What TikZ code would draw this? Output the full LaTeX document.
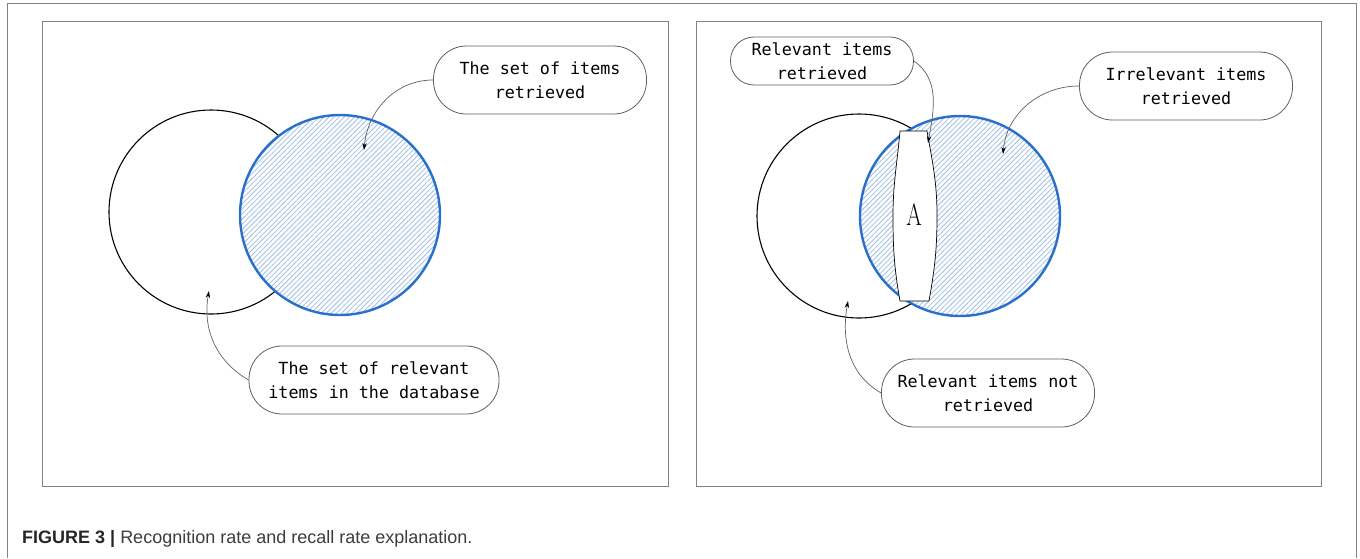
\documentclass[tikz,border=0pt]{standalone}
\usepackage{fontspec}
\newfontfamily\monofont{DejaVu Sans Mono}
\newfontfamily\capfont{Liberation Sans}
\usetikzlibrary{patterns.meta,arrows.meta}

\definecolor{setblue}{RGB}{40,112,204}
\definecolor{hatchblue}{RGB}{160,192,230}
\definecolor{framegray}{RGB}{130,130,130}
\definecolor{boxgray}{RGB}{95,95,95}
\definecolor{capgray}{RGB}{60,60,60}

\tikzset{
  callout/.style={draw=boxgray, fill=white, line width=0.8pt, rounded corners=33pt,
    minimum width=213pt, minimum height=68pt, inner sep=0pt, align=center,
    font=\monofont\fontsize{16.7}{24}\selectfont},
  smallcallout/.style={callout, rounded corners=23.5pt, minimum width=183pt, minimum height=48pt},
  pointer/.style={draw=boxgray, line width=0.7pt, -{Stealth[length=7pt,width=4.5pt,color=black]}},
  relset/.style={draw=black, line width=1.1pt},
  retset/.style={draw=setblue, line width=2.4pt, preaction={fill=white},
    pattern={Lines[angle=45, distance=3.6pt, line width=0.8pt]}, pattern color=hatchblue},
  panel/.style={draw=framegray, line width=1pt},
}

\begin{document}
\begin{tikzpicture}[x=1pt, y=1pt]
  \useasboundingbox (0,0) rectangle (1360,-558);

  % Outer frame, open at the bottom
  \draw[panel] (7,-558) -- (7,-3) -- (1356,-3) -- (1356,-558);

  % Left panel
  \draw[panel] (42,-21) rectangle (668,-486);
  \draw[relset] (211,-212) circle (102);
  \draw[retset] (340,-215) circle (100);

  \node[callout] (setR) at (540,-80) {The set of items\\retrieved};
  \node[callout, minimum width=250pt] (setD) at (374,-380) {The set of relevant\\items in the database};

  \coordinate (tipR) at (364,-150);
  \coordinate (tipD) at (209,-291);
  \draw[pointer] (setR.west) to[out=180, in=85] (tipR);
  \draw[pointer] (setD.west) to[out=150, in=-100] (tipD);

  % Right panel
  \draw[panel] (696,-21) rectangle (1321,-486);
  \draw[relset] (859,-216) circle (102);
  \draw[retset] (960,-216) circle (100);

  % Lens A
  \draw[line width=0.7pt, fill=white] (900,-131) -- (927,-131)
    to[out=-80, in=90] (937,-216) to[out=-90, in=80] (929,-301) -- (900,-301)
    to[out=100, in=-90] (893,-216) to[out=90, in=-95] (900,-131) -- cycle;
  \node (A) at (914,-215) {\fontsize{31}{31}\selectfont\scalebox{0.72}[1]{A}};

  \node[smallcallout] (hitR) at (822,-61) {Relevant items\\retrieved};
  \node[callout] (irrR) at (1186,-86) {Irrelevant items\\retrieved};
  \node[callout] (lostR) at (988,-393) {Relevant items not\\retrieved};

  \coordinate (tipHit) at (928,-143);
  \coordinate (tipIrr) at (1003,-154);
  \coordinate (tipLost) at (848,-301);
  \draw[pointer] (hitR.east) to[out=-35, in=80] (tipHit);
  \draw[pointer] (irrR.west) to[out=180, in=85] (tipIrr);
  \draw[pointer] (lostR.west) to[out=150, in=-100] (tipLost);

  % Caption
  \node[anchor=base west, inner sep=0pt, font=\capfont\fontsize{18}{20}\selectfont, text=capgray]
    (cap) at (22,-543) {{\color{black!85}\bfseries FIGURE 3 |} Recognition rate and recall rate explanation.};
\end{tikzpicture}
\end{document}
